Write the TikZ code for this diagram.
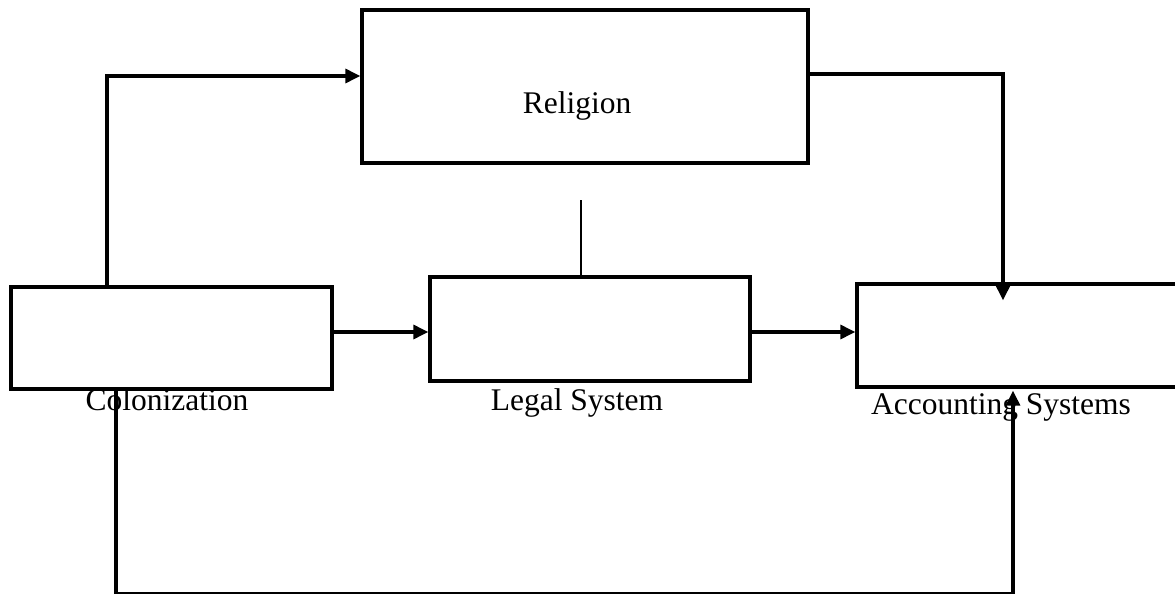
\documentclass[tikz,border=0pt]{standalone}
\usepackage{fontspec}
\setmainfont{Liberation Serif}
\usetikzlibrary{arrows.meta}
\tikzset{
  box/.style={draw,line width=1.65pt,inner sep=0pt},
  conn/.style={line width=1.6pt,-{Triangle[length=7.5pt,width=7pt]}},
  link/.style={line width=1.4pt},
  lbl/.style={anchor=base,inner sep=0pt,font=\fontsize{15.75}{18}\selectfont}
}
\begin{document}
\begin{tikzpicture}[x=0.5pt,y=-0.5pt]
    \clip (0,0) rectangle (1175,594);
    % boxes
    \node[box,minimum width=223pt,minimum height=76.5pt] (relig) at (585,86.5) {};
    \node[box,minimum width=160.5pt,minimum height=51pt] (colon) at (171.5,338) {};
    \node[box,minimum width=160pt,minimum height=52pt] (legal) at (590,329) {};
    \node[box,minimum width=164pt,minimum height=51.5pt] (acc) at (1021,335.5) {};
    % labels
    \node[lbl] (religlbl) at (577,113) {Religion};
    \node[lbl] (colonlbl) at (167,410) {Colonization};
    \node[lbl] (legallbl) at (577,410) {Legal System};
    \node[lbl] (acclbl) at (1001,414) {Accounting Systems};
    % connectors
    \draw[conn] ([xshift=-32.25pt]colon.north) |- ([yshift=5.25pt]relig.west);
    \draw[conn] ([yshift=6.25pt]relig.east) -| ([xshift=-9pt,yshift=-9pt]acc.north);
    \coordinate (stub) at (581,200);
    \draw[link] (stub) -- (stub |- legal.north);
    \draw[conn] ([yshift=3pt]colon.east) -- ([yshift=3pt]colon.east -| legal.west);
    \draw[conn] ([yshift=-1.5pt]legal.east) -- ([yshift=-1.5pt]legal.east -| acc.west);
    \draw[conn] ([xshift=-27.75pt]colon.south) -- ++(0,-101.5pt) -| ([xshift=-4pt,yshift=-1pt]acc.south);
\end{tikzpicture}
\end{document}
